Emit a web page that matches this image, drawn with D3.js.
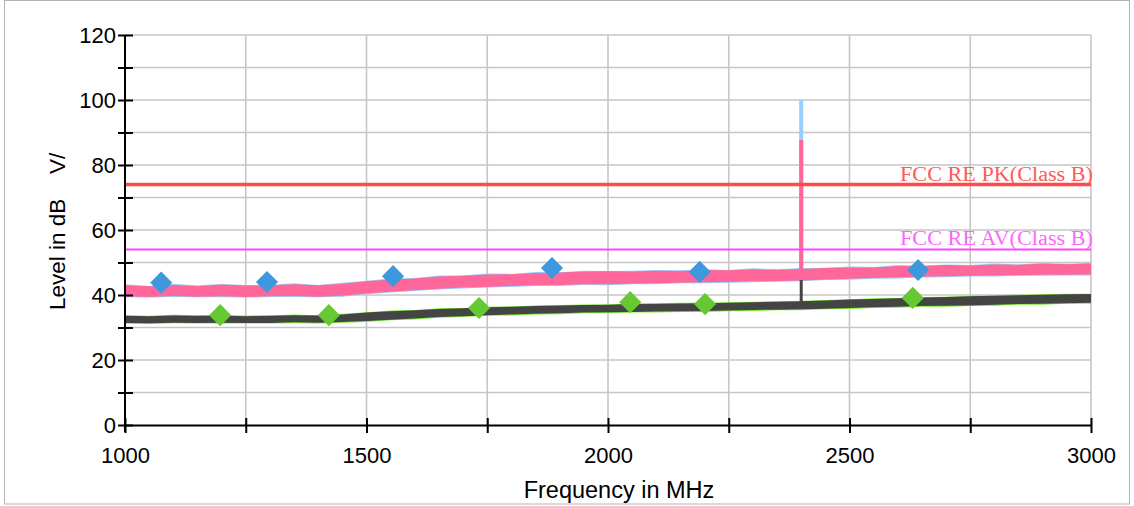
<!DOCTYPE html>
<html><head><meta charset="utf-8">
<script src="https://cdn.jsdelivr.net/npm/d3@7"></script>
<style>
html,body{margin:0;padding:0;background:#fff;}
svg{display:block;}
</style></head>
<body>
<svg id="chart" width="1134" height="506"></svg>
<script>
// ---- data ----
const freqs = [1000,1050,1100,1150,1200,1250,1300,1350,1400,1450,1500,1550,1600,1650,1700,1750,1800,1850,1900,1950,2000,2050,2100,2150,2200,2250,2300,2350,2400,2450,2500,2550,2600,2650,2700,2750,2800,2850,2900,2950,3000];
// peak trace (pink) envelope
const pkTop = [43.0,42.7,43.1,42.8,43.2,42.9,43.0,43.3,43.0,43.5,44.2,44.8,45.1,45.7,45.9,46.3,46.4,46.8,46.9,47.2,47.3,47.2,47.5,47.4,47.7,47.6,47.9,47.8,48.0,48.3,48.5,48.5,48.9,48.9,49.2,49.1,49.4,49.3,49.6,49.5,49.7];
const pkBot = [39.6,39.4,39.7,39.5,39.6,39.4,39.6,39.7,39.5,39.8,40.5,41.0,41.5,41.9,42.3,42.5,42.8,43.0,43.1,43.3,43.3,43.5,43.6,43.8,43.9,44.0,44.2,44.3,44.5,44.8,45.0,45.2,45.4,45.6,45.8,45.9,46.0,46.1,46.2,46.2,46.3];
// max-hold trace (light blue) envelope
const maxTop = [43.3,42.8,43.5,42.9,43.4,43.1,43.1,43.6,43.1,43.8,44.4,45.1,45.2,46.0,46.0,46.6,46.5,47.1,47.0,47.5,47.4,47.5,47.7,47.6,47.9,47.7,48.2,47.9,48.3,48.4,48.8,48.6,49.2,49.0,49.4,49.2,49.7,49.4,49.9,49.6,49.9];
const maxBot = [39.3,39.2,39.4,39.3,39.3,39.2,39.4,39.4,39.3,39.5,40.2,40.8,41.2,41.7,42.0,42.3,42.5,42.8,42.8,43.1,43.0,43.3,43.3,43.6,43.6,43.8,43.9,44.1,44.2,44.6,44.7,45.0,45.1,45.4,45.5,45.7,45.7,45.9,45.9,46.0,46.0];
// average trace (dark gray) envelope
const avTop = [33.6,33.5,33.7,33.6,33.7,33.5,33.6,33.8,33.7,34.0,34.6,35.0,35.3,35.7,35.9,36.2,36.4,36.6,36.8,36.9,37.0,37.2,37.3,37.4,37.5,37.6,37.8,37.9,38.1,38.3,38.6,38.8,39.0,39.2,39.4,39.6,39.8,39.9,40.1,40.2,40.3];
const avBot = [31.4,31.3,31.5,31.4,31.5,31.4,31.4,31.6,31.5,31.7,32.0,32.4,32.8,33.2,33.5,33.8,34.0,34.2,34.4,34.6,34.7,34.8,34.9,35.0,35.1,35.2,35.4,35.5,35.6,35.8,36.0,36.2,36.4,36.6,36.7,36.8,37.0,37.2,37.3,37.5,37.6];
// min trace (green) envelope
const minTop = [33.8,33.6,33.9,33.7,33.8,33.7,33.7,34.0,33.8,34.2,34.7,35.2,35.4,35.9,36.0,36.4,36.5,36.8,36.9,37.1,37.1,37.4,37.4,37.6,37.6,37.8,37.9,38.1,38.2,38.5,38.7,39.0,39.1,39.4,39.5,39.8,39.9,40.1,40.2,40.4,40.4];
const minBot = [31.2,31.1,31.3,31.2,31.2,31.2,31.2,31.3,31.2,31.5,31.7,32.2,32.5,33.0,33.2,33.6,33.7,34.0,34.1,34.4,34.4,34.6,34.6,34.8,34.8,35.0,35.1,35.3,35.3,35.6,35.7,36.0,36.1,36.4,36.4,36.6,36.7,37.0,37.0,37.3,37.3];
// narrowband spike
const spikeFreq = 2400;
const spikeMax = 100.0, spikePk = 87.7, spikeAv = 44.6;
// limit lines
const limitPK = 74, limitAV = 54;
const limitPKLabel = "FCC RE PK(Class B)";
const limitAVLabel = "FCC RE AV(Class B)";
// final measurement markers
const pkMarkFreq = [1075,1294,1555,1884,2190,2642];
const pkMarkVal  = [43.8,44.0,45.8,48.3,47.1,47.7];
const avMarkFreq = [1197,1422,1733,2046,2201,2631];
const avMarkVal  = [33.8,33.8,36.0,37.8,37.2,39.1];
// ticks
const xTicks = [1000,1250,1500,1750,2000,2250,2500,2750,3000];
const xLabels = [1000,1500,2000,2500,3000];
const yTicks = [0,10,20,30,40,50,60,70,80,90,100,110,120];
const yLabels = [0,20,40,60,80,100,120];

// ---- chart ----
const svg = d3.select("#chart");
const x = d3.scaleLinear().domain([1000,3000]).range([125,1091]);
const y = d3.scaleLinear().domain([0,120]).range([425,35]);
const FONT = "'Liberation Sans', Arial, sans-serif";

// outer border
svg.append("rect").attr("x",4.5).attr("y",0.5).attr("width",1125).attr("height",503.5)
  .attr("fill","#fff").attr("stroke","#b4b4b4").attr("stroke-width",1);

// grid
const grid = svg.append("g");
grid.selectAll("line.h").data(yTicks.filter(d=>d>0)).join("line")
  .attr("x1",x(1000)).attr("x2",x(3000)).attr("y1",d=>y(d)).attr("y2",d=>y(d))
  .attr("stroke","#c6c6c6").attr("stroke-width",1.6);
grid.selectAll("line.v").data(xTicks.filter(d=>d>1000)).join("line")
  .attr("x1",d=>x(d)).attr("x2",d=>x(d)).attr("y1",y(0)).attr("y2",y(120))
  .attr("stroke","#c6c6c6").attr("stroke-width",1.6);

// traces
const idx = d3.range(freqs.length);
const band = (top, bot) => d3.area().x(i=>x(freqs[i])).y0(i=>y(bot[i])).y1(i=>y(top[i]));
svg.append("path").attr("d", band(maxTop, maxBot)(idx)).attr("fill","#99ccff");
svg.append("path").attr("d", band(minTop, minBot)(idx)).attr("fill","#77ee33");

// spikes
svg.append("line").attr("x1",x(spikeFreq)).attr("x2",x(spikeFreq))
  .attr("y1",y(46)).attr("y2",y(spikeMax)).attr("stroke","#99ccff").attr("stroke-width",4);
svg.append("path").attr("d", band(pkTop, pkBot)(idx)).attr("fill","#ff6699");
svg.append("line").attr("x1",x(spikeFreq)).attr("x2",x(spikeFreq))
  .attr("y1",y(46)).attr("y2",y(spikePk)).attr("stroke","#ff6699").attr("stroke-width",4);
svg.append("path").attr("d", band(avTop, avBot)(idx)).attr("fill","#444444");
svg.append("line").attr("x1",x(spikeFreq)).attr("x2",x(spikeFreq))
  .attr("y1",y(37)).attr("y2",y(spikeAv)).attr("stroke","#444444").attr("stroke-width",3);

// limit lines
svg.append("line").attr("x1",x(1000)).attr("x2",x(3000)).attr("y1",y(limitPK)).attr("y2",y(limitPK))
  .attr("stroke","#ff4a4a").attr("stroke-width",3.5);
svg.append("line").attr("x1",x(1000)).attr("x2",x(3000)).attr("y1",y(limitAV)).attr("y2",y(limitAV))
  .attr("stroke","#ff44ff").attr("stroke-width",2);
const LF = "'Liberation Serif', 'DejaVu Serif', serif";
svg.append("text").text(limitPKLabel).attr("x",x(3000)+2).attr("y",y(limitPK)-3.5)
  .attr("text-anchor","end").attr("font-family",LF).attr("font-size",20)
  .attr("textLength",193).attr("lengthAdjust","spacingAndGlyphs").attr("fill","#ff5a5a");
svg.append("text").text(limitAVLabel).attr("x",x(3000)+2).attr("y",y(limitAV)-5)
  .attr("text-anchor","end").attr("font-family",LF).attr("font-size",20)
  .attr("textLength",193).attr("lengthAdjust","spacingAndGlyphs").attr("fill","#ff66ff");

// markers
const diamond = d3.symbol().type(d3.symbolSquare).size(245);
svg.append("g").selectAll("path").data(pkMarkFreq).join("path")
  .attr("d", diamond)
  .attr("transform",(d,i)=>`translate(${x(d)},${y(pkMarkVal[i])}) rotate(45)`)
  .attr("fill","#3d98dd");
svg.append("g").selectAll("path").data(avMarkFreq).join("path")
  .attr("d", diamond)
  .attr("transform",(d,i)=>`translate(${x(d)},${y(avMarkVal[i])}) rotate(45)`)
  .attr("fill","#66c832");

// axes
const yAxis = svg.append("g").attr("transform",`translate(${x(1000)},0)`)
  .call(d3.axisLeft(y).tickValues(yTicks).tickSizeInner(7).tickSizeOuter(0).tickPadding(2)
    .tickFormat(d=> yLabels.includes(d) ? d : ""));
yAxis.selectAll(".tick line").attr("x2",-7).attr("x1",8);
const xAxis = svg.append("g").attr("transform",`translate(0,${y(0)})`)
  .call(d3.axisBottom(x).tickValues(xTicks).tickSizeInner(8).tickSizeOuter(0).tickPadding(14)
    .tickFormat(d=> xLabels.includes(d) ? d : ""));
xAxis.selectAll(".tick line").attr("y1",-7).attr("y2",8);
[yAxis,xAxis].forEach(a=>{
  a.selectAll("path.domain").attr("stroke","#000").attr("stroke-width",2);
  a.selectAll(".tick line").attr("stroke","#000").attr("stroke-width",2);
  a.selectAll("text").attr("font-family",FONT).attr("font-size",22).attr("fill","#000");
});
yAxis.select("path.domain").attr("d",`M0,${y(120)}V${y(0)+7}`);

// axis titles
svg.append("text").text("Frequency in MHz").attr("x",619).attr("y",498)
  .attr("text-anchor","middle").attr("font-family",FONT).attr("font-size",23.5).attr("fill","#000");
svg.append("text").text("Level in dB").attr("transform","translate(65,310) rotate(-90)")
  .attr("text-anchor","start").attr("font-family",FONT).attr("font-size",22.5).attr("fill","#000");
svg.append("text").text("V/").attr("transform","translate(65,174) rotate(-90)")
  .attr("text-anchor","start").attr("font-family",FONT).attr("font-size",22.5).attr("fill","#000");
</script>
</body></html>
